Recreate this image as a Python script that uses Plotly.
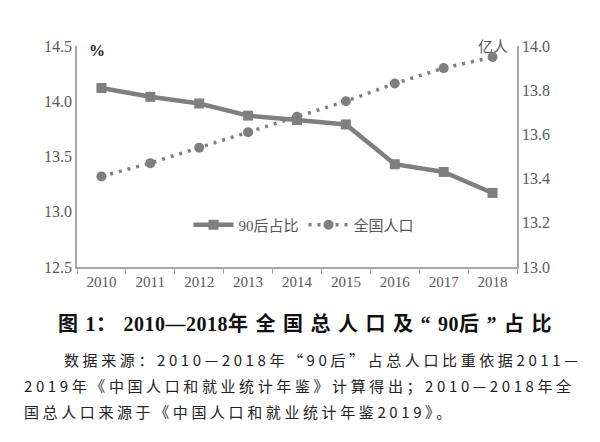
import plotly.graph_objects as go

# dados
anos = ["2010", "2011", "2012", "2013", "2014", "2015", "2016", "2017", "2018"]
pct_90hou = [14.12, 14.04, 13.98, 13.87, 13.83, 13.79, 13.43, 13.36, 13.17]  # %
pop_total = [13.41, 13.47, 13.54, 13.61, 13.68, 13.75, 13.83, 13.90, 13.95]  # 亿人

# título em pedaços: os caracteres chineses são mais espaçados que os números
titulo_partes = ["图", "1", "：", "2010—2018", "年全国总人口及“", "90", "后”占比"]
notas = [
    "数据来源：2010—2018年“90后”占总人口比重依据2011—",
    "2019年《中国人口和就业统计年鉴》计算得出；2010—2018年全",
    "国总人口来源于《中国人口和就业统计年鉴2019》。",
]

cinza = "#7f7f7f"
eixo = "#a6a6a6"
texto = "#595959"
serif = "Liberation Serif, Times New Roman, DejaVu Serif, serif"
serif_cjk = "Liberation Serif, Times New Roman, Noto Sans CJK SC"
cjk = "Noto Sans CJK SC"

# a página tem margem de 8px no body, então tudo é deslocado
OFF = 8
W, H = 600, 442
# área do gráfico na tela: x=77 a 517, y=46 a 267
L = 77 - OFF
T = 46 - OFF
R = W - (517 - OFF)
B = H - (267 - OFF)
pw = W - L - R
ph = H - T - B


def px(x, y):
    # converte pixel da tela para coordenada "paper"
    return (x - OFF - L) / pw, (H - B - (y - OFF)) / ph


fig = go.Figure()

fig.add_trace(go.Scatter(
    x=anos, y=pct_90hou,
    name="90后占比",
    mode="lines+markers",
    line=dict(color=cinza, width=4.5),
    marker=dict(symbol="square", size=10, color=cinza),
    yaxis="y",
))

fig.add_trace(go.Scatter(
    x=anos, y=pop_total,
    name="全国人口",
    mode="lines+markers",
    line=dict(color=cinza, width=3.5, dash="3px,6px"),
    marker=dict(symbol="circle", size=10, color=cinza),
    yaxis="y2",
))

anots = []

# unidades
x, y = px(97, 50)
anots.append(dict(text="<b>%</b>", x=x, y=y, xref="paper", yref="paper",
                  xanchor="center", yanchor="middle", showarrow=False,
                  font=dict(family=serif, size=16, color="#222")))
x, y = px(493, 45)
anots.append(dict(text="亿人", x=x, y=y, xref="paper", yref="paper",
                  xanchor="center", yanchor="middle", showarrow=False,
                  font=dict(family=cjk, size=15, color=texto)))

# título
html_titulo = ""
for p in titulo_partes:
    esp = 0.5 if p[0].isdigit() else 7.5
    html_titulo += '<span style="letter-spacing:%spx">%s</span>' % (esp, p)
x, y = px(56, 323)
anots.append(dict(text="<b>" + html_titulo + "</b>",
                  x=x, y=y, xref="paper", yref="paper",
                  xanchor="left", yanchor="middle", showarrow=False,
                  font=dict(family=serif_cjk, size=20, color="#111")))

# notas da fonte
linhas = [(62, 359), (22, 385), (22, 411)]
for (lx, ly), t in zip(linhas, notas):
    x, y = px(lx, ly)
    anots.append(dict(text='<span style="letter-spacing:3.6px">' + t + "</span>",
                      x=x, y=y, xref="paper", yref="paper",
                      xanchor="left", yanchor="middle", showarrow=False,
                      font=dict(family=cjk, size=15, color="#222")))

lx, ly = px(304, 225)

fig.update_layout(
    width=W, height=H,
    margin=dict(l=L, r=R, t=T, b=B),
    paper_bgcolor="white",
    plot_bgcolor="white",
    showlegend=True,
    legend=dict(
        orientation="h",
        x=lx, y=ly, xanchor="center", yanchor="middle",
        bgcolor="rgba(0,0,0,0)",
        font=dict(family=serif_cjk, size=15, color=texto),
        itemwidth=40,
    ),
    xaxis=dict(
        type="category",
        range=[-0.5, 8.5],
        showline=True, linecolor=eixo, linewidth=1.5,
        ticks="outside", tickson="boundaries", ticklen=5, tickcolor=eixo,
        showgrid=False, zeroline=False,
        tickfont=dict(family=serif, size=15, color=texto),
    ),
    yaxis=dict(
        range=[12.5, 14.5], dtick=0.5, tickformat=".1f",
        showline=True, linecolor=eixo, linewidth=1.5,
        showgrid=False, zeroline=False, ticks="",
        tickfont=dict(family=serif, size=16, color=texto),
    ),
    yaxis2=dict(
        range=[13.0, 14.0], dtick=0.2, tickformat=".1f",
        overlaying="y", side="right",
        showline=True, linecolor=eixo, linewidth=1.5,
        showgrid=False, zeroline=False, ticks="",
        tickfont=dict(family=serif, size=16, color=texto),
    ),
    annotations=anots,
)

fig.write_html("out.html")
